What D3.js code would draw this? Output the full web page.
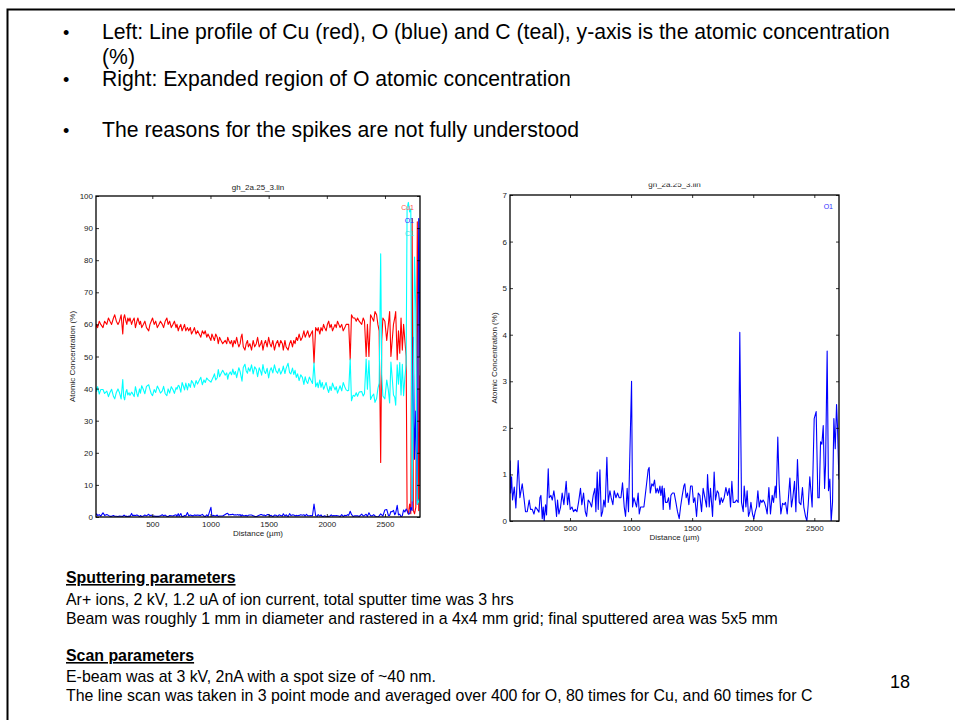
<!DOCTYPE html>
<html>
<head>
<meta charset="utf-8">
<script src="https://cdn.jsdelivr.net/npm/d3@7"></script>
<style>
  body { margin: 0; background: #fff; }
  svg { display: block; }
</style>
</head>
<body>
<svg id="slide" width="955" height="720"></svg>
<script>
// Line-scan sample positions (µm) shared by every element
const distance = [10,14,22,30,44,57,76,90,109,123,136,150,166,177,191,205,218,232,246,254,
  262,273,281,289,300,308,322,330,344,355,368,376,390,398,409,423,436,450,469,480,
  491,502,516,529,543,557,570,586,597,611,625,636,649,663,677,690,704,712,723,731,
  745,756,767,777,788,802,813,827,837,851,862,876,889,903,917,930,944,955,968,979,
  1004,1012,1023,1034,1045,1058,1067,1078,1091,1105,1127,1140,1148,1157,1170,1181,1192,1203,1214,1225,
  1236,1244,1255,1263,1271,1282,1296,1307,1318,1326,1339,1353,1367,1380,1394,1405,1419,1432,1440,1451,
  1462,1473,1487,1500,1511,1522,1536,1550,1563,1577,1590,1604,1618,1626,1640,1650,1667,1680,1691,1705,
  1716,1727,1738,1749,1762,1776,1790,1803,1814,1825,1836,1850,1863,1877,1890,1904,1918,1926,1940,1950,
  1961,1972,1981,1994,2005,2016,2027,2038,2049,2060,2071,2081,2092,2103,2114,2128,2141,2155,2166,2180,
  2188,2201,2212,2226,2240,2253,2264,2278,2300,2313,2324,2338,2349,2362,2376,2390,2403,2414,2428,2439,
  2450,2463,2472,2482,2499,2515,2529,2540,2551,2562,2573,2584,2592,2605,2616,2627,2638,2649,2660,2671,
  2682,2690,2701,2712,2722,2733,2744,2754,2765,2778,2790,2801,2812];

// Cu atomic concentration (%)
const cuConc = [58,59,60,59,61,60,59,61,60,62, 61,60,62,63,61,60,61,63,57,62,
  63,61,60,62,61,62,60,61,62,59, 61,62,60,61,59,60,61,59,58,60,
  61,62,60,61,59,60,61,60,59,61, 62,60,61,59,60,61,59,60,58,59,
  60,58,59,60,58,59,58,59,57,58, 59,57,58,57,56,58,57,58,56,57,
  55,57,56,55,57,56,54,56,55,54, 55,54,56,55,54,55,53,55,54,56,
  54,53,54,56,57,53,52,54,55,53, 54,52,55,53,54,56,53,54,55,52,
  54,55,53,56,54,53,55,52,54,55, 53,55,54,52,55,53,52,54,55,53,
  55,54,56,55,57,55,56,58,56,57, 58,56,57,58,48,59,58,59,57,59,
  58,60,59,58,60,61,59,60,58,59, 60,59,61,60,59,60,58,59,60,60,
  60,49,63,62,62,61,62,61,60,62, 61,50,60,50,63,62,61,64,63,60,
  58,17,55,62,61,55,60,64,50,55, 60,62,64,49,58,51,62,52,60,55,
  50,2,1,4,1,93,2,1,3,92,2,44,10];

// O atomic concentration (%)
const oConc = [1.3,0.6,0.95,0.45,0.73,0.28,1.3,0.5,0.8,0.5, 0.2,0.2,0.45,0.25,0.25,0.15,0.3,0.25,0.19,0.5,
  0.55,0.05,0.3,0.0,0.35,0.13,1.12,0.5,0.55,0.45, 0.65,0.5,0.1,0.45,0.15,0.3,0.6,0.35,0.85,0.35,
  0.6,0.25,0.3,0.2,0.25,0.2,0.4,0.7,0.35,0.6, 0.2,0.1,0.45,0.4,0.3,0.55,0.7,0.2,1.05,0.25,
  1.1,0.1,0.2,0.45,0.3,1.37,0.4,0.65,0.5,0.35, 0.65,0.5,0.6,0.5,0.5,0.82,0.3,0.1,0.7,0.2,
  3.0,0.3,0.5,0.4,0.3,0.6,0.15,0.3,0.3,0.3, 0.8,1.1,1.15,0.6,0.8,0.75,0.88,0.6,0.7,0.6,
  0.75,0.55,0.75,0.25,0.7,0.4,0.4,0.5,0.25,0.55, 0.6,0.6,0.4,0.2,0.05,0.3,0.55,0.75,0.8,0.5,
  0.6,0.35,0.75,0.75,0.4,0.5,0.1,0.6,0.55,0.2, 0.7,0.5,0.3,1.0,0.3,0.7,0.1,1.05,0.45,0.65,
  0.6,0.35,0.5,0.4,0.5,0.72,0.55,0.7,0.3,0.85, 0.4,0.4,0.45,0.4,4.05,0.4,0.2,0.75,0.3,0.65,
  0.1,0.2,0.4,0.15,0.05,0.2,0.3,0.65,0.3,0.45, 0.4,0.45,0.4,0.3,0.15,0.72,0.15,0.55,0.4,0.75,
  0.5,1.8,0.8,0.15,0.38,0.35,0.4,0.15,0.92,0.3, 0.5,0.85,0.2,1.32,0.4,0.35,0.72,0.3,0.1,0.0,
  0.35,0.95,0.65,0.3,2.2,2.35,0.5,0.5,1.7,1.65, 2.05,0.7,1.2,3.65,0.65,0.9,0.0,0.4,2.2,1.55,
  2.5,2.0,0.9,1,3,2,56,18,33,4,93,50,80];

// C atomic concentration (%)
const cConc = [40.7,40.4,39.1,40.6,38.3,39.7,39.7,38.5,39.2,37.5, 38.8,39.8,37.6,36.8,38.8,39.9,38.7,36.8,42.8,37.5,
  36.5,39,39.7,38,38.7,37.9,38.9,38.5,37.5,40.6, 38.4,37.5,39.9,38.6,40.9,39.7,38.4,40.7,41.2,39.7,
  38.4,37.8,39.7,38.8,40.8,39.8,38.6,39.3,40.7,38.4, 37.8,39.9,38.6,40.6,39.7,38.5,40.3,39.8,41,40.8,
  38.9,41.9,40.8,39.6,41.7,39.6,41.6,40.4,42.5,41.7, 40.4,42.5,41.4,42.5,43.5,41.2,42.7,41.9,43.3,42.8,
  42,42.7,43.5,44.6,42.7,43.4,45.9,43.7,44.7,45.7, 44.2,44.9,42.9,44.4,45.2,44.3,46.1,44.4,45.3,43.4,
  45.3,46.5,45.3,43.8,42.3,46.6,47.6,45.5,44.8,46.5, 45.4,47.4,44.6,46.8,46,43.7,46.5,45.3,44.2,47.5,
  45.4,44.7,46.3,43.3,45.6,46.5,44.9,47.4,45.5,44.8, 46.3,44.5,45.7,47,44.7,46.3,47.9,45,44.6,46.4,
  44.4,45.7,43.5,44.6,42.5,44.3,43.5,41.3,43.7,42.2, 41.6,43.6,42.6,41.6,48,40.6,41.8,40.3,42.7,40.4,
  41.9,39.8,40.6,41.9,40,38.8,40.7,39.4,41.7,40.6, 39.6,40.6,38.6,39.7,40.9,39.3,41.9,40.5,39.6,39.3,
  39.5,49.2,36.2,37.9,37.6,38.7,37.6,38.9,39.1,37.7, 38.5,49.2,39.8,48.7,36.6,37.7,38.3,35.7,36.9,40,
  41.7,82,44.4,37.7,36.8,42.7,39.5,35.5,48.3,43.4, 38,37.3,34.8,47.4,41.4,48.1,38,47.6,37.8,43.5,
  47.5,96,98,95,96,5,42,81,64,4,5,6,10];

const fullTicks = [0,10,20,30,40,50,60,70,80,90,100];
const expandedTicks = [0,1,2,3,4,5,6,7];
const distanceTicks = [500,1000,1500,2000,2500];

const bullets = [
  {text: "Left: Line profile of Cu (red), O (blue) and C (teal), y-axis is the atomic concentration", y: 39, dot: true},
  {text: "(%)", y: 63.5, dot: false},
  {text: "Right: Expanded region of O atomic concentration", y: 86, dot: true},
  {text: "The reasons for the spikes are not fully understood", y: 137, dot: true}
];

const notes = [
  {text: "Sputtering parameters", y: 583, head: true},
  {text: "Ar+ ions, 2 kV, 1.2 uA of ion current, total sputter time was 3 hrs", y: 605},
  {text: "Beam was roughly 1 mm in diameter and rastered in a 4x4 mm grid; final sputtered area was 5x5 mm", y: 624},
  {text: "Scan parameters", y: 661, head: true},
  {text: "E-beam was at 3 kV, 2nA with a spot size of ~40 nm.", y: 682},
  {text: "The line scan was taken in 3 point mode and averaged over 400 for O, 80 times for Cu, and 60 times for C", y: 701}
];

const FONT = "'Liberation Sans', Arial, Helvetica, sans-serif";
const svg = d3.select("#slide").style("font-family", FONT);

// slide frame (top and left edges)
svg.append("path")
  .attr("d", "M7.5,720 V9.5 H955")
  .attr("fill", "none").attr("stroke", "#000").attr("stroke-width", 2);

// bullet list
const bl = svg.append("g").attr("font-size", 21.2).attr("fill", "#000");
bullets.forEach(b => {
  if (b.dot) bl.append("text").attr("x", 63).attr("y", b.y).attr("font-size", 18).text("•");
  bl.append("text").attr("x", 102).attr("y", b.y).text(b.text);
});

// parameter notes
const nt = svg.append("g").attr("font-size", 15.9).attr("fill", "#000");
notes.forEach(n => {
  const t = nt.append("text").attr("x", 66).attr("y", n.y).text(n.text);
  if (n.head) t.attr("font-weight", "bold").attr("text-decoration", "underline");
});
svg.append("text").attr("x", 890).attr("y", 688).attr("font-size", 18).text("18");

let clipId = 0;
function panel(cfg) {
  const g = svg.append("g");
  const x = d3.scaleLinear().domain(cfg.xDomain).range([cfg.left, cfg.right]);
  const y = d3.scaleLinear().domain(cfg.yDomain).range([cfg.bottom, cfg.top]);
  const id = "plotclip" + (clipId++);
  g.append("clipPath").attr("id", id).append("rect")
    .attr("x", cfg.left).attr("y", cfg.top)
    .attr("width", cfg.right - cfg.left).attr("height", cfg.bottom - cfg.top);

  const plot = g.append("g").attr("clip-path", `url(#${id})`);
  cfg.series.forEach(s => {
    const pts = distance.map((d, i) => [d, s.values[i]]);
    plot.append("path").datum(pts)
      .attr("fill", "none").attr("stroke", s.color).attr("stroke-width", 1.1)
      .attr("stroke-linejoin", "round")
      .attr("d", d3.line().x(p => x(p[0])).y(p => y(p[1])));
  });

  const styleAxis = sel => {
    sel.select(".domain").remove();
    sel.selectAll("line").attr("stroke", "#000").attr("stroke-width", 0.8);
    sel.selectAll("text").attr("font-size", 8).attr("fill", "#222").attr("font-family", FONT);
  };
  g.append("g").attr("transform", `translate(0,${cfg.bottom})`)
    .call(d3.axisBottom(x).tickValues(distanceTicks).tickSize(-3).tickPadding(4).tickFormat(d3.format("d")))
    .call(styleAxis);
  g.append("g").attr("transform", `translate(0,${cfg.top})`)
    .call(d3.axisTop(x).tickValues(distanceTicks).tickSize(-3).tickFormat(""))
    .call(styleAxis);
  g.append("g").attr("transform", `translate(${cfg.left},0)`)
    .call(d3.axisLeft(y).tickValues(cfg.yTicks).tickSize(-3).tickPadding(3).tickFormat(d3.format("d")))
    .call(styleAxis);
  g.append("g").attr("transform", `translate(${cfg.right},0)`)
    .call(d3.axisRight(y).tickValues(cfg.yTicks).tickSize(-3).tickFormat(""))
    .call(styleAxis);

  g.append("rect")
    .attr("x", cfg.left).attr("y", cfg.top)
    .attr("width", cfg.right - cfg.left).attr("height", cfg.bottom - cfg.top)
    .attr("fill", "none").attr("stroke", "#000").attr("stroke-width", 1.3);

  const cx = (cfg.left + cfg.right) / 2;
  const title = g.append("text").attr("x", cx).attr("y", cfg.titleY)
    .attr("text-anchor", "middle").attr("font-size", 8).attr("fill", "#222").text(cfg.title);
  if (cfg.titleClipTop) {
    const tid = "titleclip" + (clipId++);
    g.append("clipPath").attr("id", tid).append("rect")
      .attr("x", cfg.left).attr("y", cfg.titleClipTop).attr("width", cfg.right - cfg.left).attr("height", 20);
    title.attr("clip-path", `url(#${tid})`);
  }
  g.append("text").attr("x", cx).attr("y", cfg.bottom + 19)
    .attr("text-anchor", "middle").attr("font-size", 8).attr("fill", "#222").text("Distance (µm)");
  g.append("text")
    .attr("transform", `translate(${cfg.left - cfg.yLabelOffset},${(cfg.top + cfg.bottom) / 2}) rotate(-90)`)
    .attr("text-anchor", "middle").attr("font-size", 8).attr("fill", "#222").text("Atomic Concentration (%)");

  cfg.legend.forEach((l, i) => {
    g.append("text").attr("x", cfg.legendX).attr("y", cfg.top + 14 + i * 13)
      .attr("text-anchor", "end").attr("font-size", 7).attr("fill", l.color).text(l.name);
  });
}

panel({
  left: 96, right: 420, top: 196, bottom: 517,
  xDomain: [16, 2801], yDomain: [0, 100], yTicks: fullTicks,
  title: "gh_2a.25_3.lin", titleY: 190, yLabelOffset: 21,
  series: [
    {values: cuConc, color: "#ff0000"},
    {values: oConc, color: "#0000ff"},
    {values: cConc, color: "#00ffff"}
  ],
  legend: [
    {name: "Cu1", color: "#ff5050"},
    {name: "O1", color: "#3030ff"},
    {name: "C1", color: "#40e0e0"}
  ],
  legendX: 414
});

panel({
  left: 510, right: 839, top: 195, bottom: 521,
  xDomain: [9, 2702], yDomain: [0, 7], yTicks: expandedTicks,
  title: "gh_2a.25_3.lin", titleY: 187, titleClipTop: 183.5, yLabelOffset: 13,
  series: [{values: oConc, color: "#0000ff"}],
  legend: [{name: "O1", color: "#3030ff"}],
  legendX: 833
});
</script>
</body>
</html>
